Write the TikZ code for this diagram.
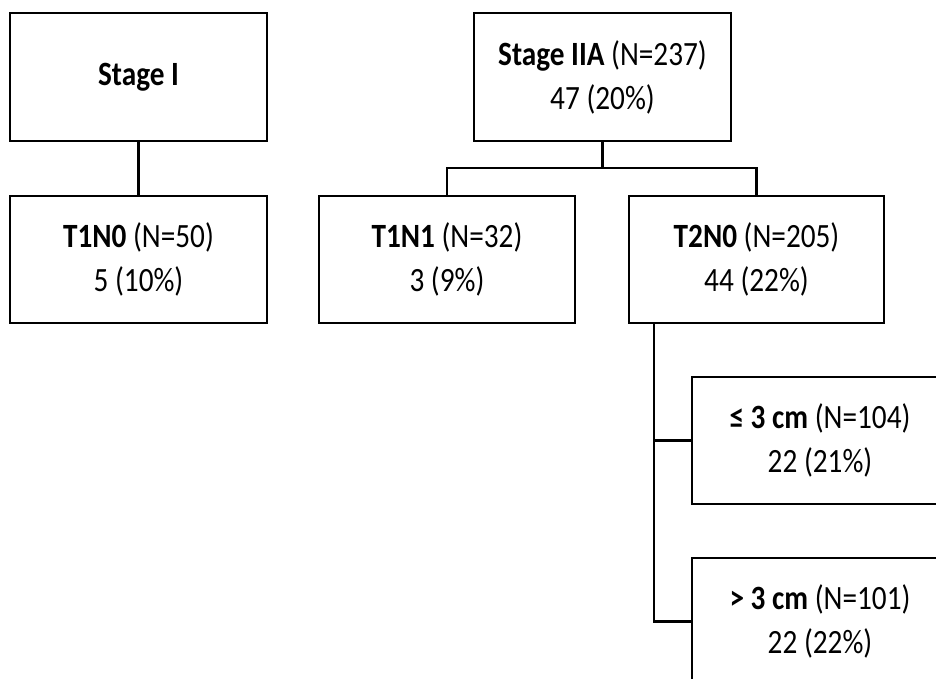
\documentclass[tikz,border=0pt]{standalone}
\usepackage{fontspec}
\setmainfont{Carlito}[FakeStretch=0.86]
\begin{document}
\begin{tikzpicture}[x=1pt,y=-1pt,
  box/.style={draw=black,line width=2.2pt,fill=white,rectangle,minimum width=256pt,minimum height=127pt,
    align=center,inner sep=0pt,font=\fontsize{34}{44}\selectfont},
  conn/.style={draw=black,line width=2.2pt}]
\useasboundingbox (0,0) rectangle (936,678);
\clip (0,0) rectangle (936,678);
\node[box,minimum width=257pt,minimum height=128pt] (s1) at (138.5,77) {\textbf{Stage I}};
\node[box,minimum width=257pt] (t1n0) at (138.5,259.5) {\textbf{T1N0} (N=50)\\5 (10\%)};
\node[box,minimum width=257pt,minimum height=128pt] (s2a) at (602.5,77) {\textbf{Stage IIA} (N=237)\\47 (20\%)};
\node[box] (t1n1) at (447,259.5) {\textbf{T1N1} (N=32)\\3 (9\%)};
\node[box,minimum width=255pt] (t2n0) at (756.5,259.5) {\textbf{T2N0} (N=205)\\44 (22\%)};
\node[box] (le3) at (820,440.5) {\textbf{≤ 3 cm} (N=104)\\22 (21\%)};
\node[box] (gt3) at (820,621.5) {\textbf{> 3 cm} (N=101)\\22 (22\%)};
\coordinate (j) at (602.5,168);
\coordinate (bt) at (654,323);
\draw[conn] (s1) -- (t1n0);
\draw[conn] (s2a.south) -- (j);
\draw[conn] (t1n1.north) |- (j) -| (t2n0.north);
\draw[conn] (bt) |- (gt3.west);
\draw[conn] (bt |- le3.west) -- (le3.west);
\end{tikzpicture}
\end{document}
